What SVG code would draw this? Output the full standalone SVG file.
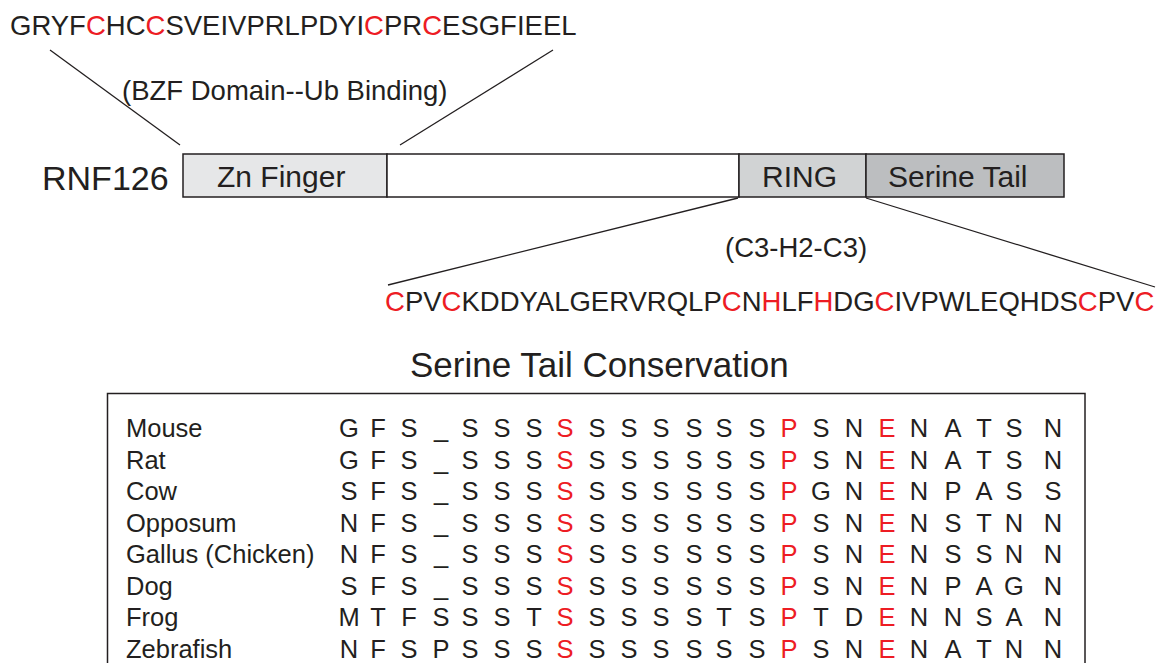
<svg xmlns="http://www.w3.org/2000/svg" width="1168" height="663" viewBox="0 0 1168 663">
<style>
text{font-family:"Liberation Sans",Arial,sans-serif;fill:#231f20}
.seq{font-size:27.5px}
.r{fill:#ed1c24}
.box{stroke:#231f20;stroke-width:1.5}
.lbl{font-size:30px}
.tbl{font-size:25.5px}
.aln{font-size:25.5px;text-anchor:middle}
.conn line{stroke:#231f20;stroke-width:1.3}
</style>
<rect width="1168" height="663" fill="#fff"/>
<g id="connectors" class="conn">
<line x1="50" y1="50" x2="180" y2="145"/>
<line x1="553" y1="50" x2="400" y2="145"/>
<line x1="738" y1="198" x2="388" y2="285"/>
<line x1="866" y1="198" x2="1155" y2="287"/>
</g>
<g id="bzf-seq">
<text class="seq" x="10" y="35">GRYF<tspan class="r">C</tspan>HC<tspan class="r">C</tspan>SVEIVPRLPDYI<tspan class="r">C</tspan>PR<tspan class="r">C</tspan>ESGFIEEL</text>
<text class="seq" x="122" y="100">(BZF Domain--Ub Binding)</text>
</g>
<g id="rnf126">
<text x="42" y="190" font-size="34">RNF126</text>
</g>
<g id="zn-finger">
<rect class="box" x="183" y="154" width="204" height="43" fill="#e6e7e8"/>
<text class="lbl" x="217" y="187">Zn Finger</text>
</g>
<g id="linker">
<rect class="box" x="387" y="154" width="352" height="43" fill="#ffffff"/>
</g>
<g id="ring">
<rect class="box" x="739" y="154" width="127" height="43" fill="#d1d3d4"/>
<text class="lbl" x="762" y="187">RING</text>
</g>
<g id="serine-tail">
<rect class="box" x="866" y="154" width="198" height="43" fill="#bcbec0"/>
<text class="lbl" x="888" y="187">Serine Tail</text>
</g>
<g id="ring-seq">
<text class="seq" x="725" y="257">(C3-H2-C3)</text>
<text class="seq" x="385" y="311"><tspan class="r">C</tspan>PV<tspan class="r">C</tspan>KDDYALGERVRQLP<tspan class="r">C</tspan>N<tspan class="r">H</tspan>LF<tspan class="r">H</tspan>DG<tspan class="r">C</tspan>IVPWLEQHDS<tspan class="r">C</tspan>PV<tspan class="r">C</tspan></text>
</g>
<g id="conservation">
<text x="410" y="377" font-size="35">Serine Tail Conservation</text>
<rect x="107.5" y="393.5" width="977.5" height="300" fill="none" stroke="#231f20" stroke-width="1.5"/>
<g class="tbl">
<text x="126" y="437">Mouse</text>
<text x="126" y="468.5">Rat</text>
<text x="126" y="500">Cow</text>
<text x="126" y="531.5">Opposum</text>
<text x="126" y="563">Gallus (Chicken)</text>
<text x="126" y="594.5">Dog</text>
<text x="126" y="626">Frog</text>
<text x="126" y="657.5">Zebrafish</text>
</g>
<g>
<text class="aln" y="437" x="349 378 409 441 470 502 534 565 597 629 661 694 724 757 789 821 854 887 919 953 984 1014 1053">GFS_SSS<tspan class="r">S</tspan>SSSSSS<tspan class="r">P</tspan>SN<tspan class="r">E</tspan>NATSN</text>
<text class="aln" y="468.5" x="349 378 409 441 470 502 534 565 597 629 661 694 724 757 789 821 854 887 919 953 984 1014 1053">GFS_SSS<tspan class="r">S</tspan>SSSSSS<tspan class="r">P</tspan>SN<tspan class="r">E</tspan>NATSN</text>
<text class="aln" y="500" x="349 378 409 441 470 502 534 565 597 629 661 694 724 757 789 821 854 887 919 953 984 1014 1053">SFS_SSS<tspan class="r">S</tspan>SSSSSS<tspan class="r">P</tspan>GN<tspan class="r">E</tspan>NPASS</text>
<text class="aln" y="531.5" x="349 378 409 441 470 502 534 565 597 629 661 694 724 757 789 821 854 887 919 953 984 1014 1053">NFS_SSS<tspan class="r">S</tspan>SSSSSS<tspan class="r">P</tspan>SN<tspan class="r">E</tspan>NSTNN</text>
<text class="aln" y="563" x="349 378 409 441 470 502 534 565 597 629 661 694 724 757 789 821 854 887 919 953 984 1014 1053">NFS_SSS<tspan class="r">S</tspan>SSSSSS<tspan class="r">P</tspan>SN<tspan class="r">E</tspan>NSSNN</text>
<text class="aln" y="594.5" x="349 378 409 441 470 502 534 565 597 629 661 694 724 757 789 821 854 887 919 953 984 1014 1053">SFS_SSS<tspan class="r">S</tspan>SSSSSS<tspan class="r">P</tspan>SN<tspan class="r">E</tspan>NPAGN</text>
<text class="aln" y="626" x="349 378 409 441 470 502 534 565 597 629 661 694 724 757 789 821 854 887 919 953 984 1014 1053">MTFSSST<tspan class="r">S</tspan>SSSSTS<tspan class="r">P</tspan>TD<tspan class="r">E</tspan>NNSAN</text>
<text class="aln" y="657.5" x="349 378 409 441 470 502 534 565 597 629 661 694 724 757 789 821 854 887 919 953 984 1014 1053">NFSPSSS<tspan class="r">S</tspan>SSSSSS<tspan class="r">P</tspan>SN<tspan class="r">E</tspan>NATNN</text>
</g>
</g>
</svg>
